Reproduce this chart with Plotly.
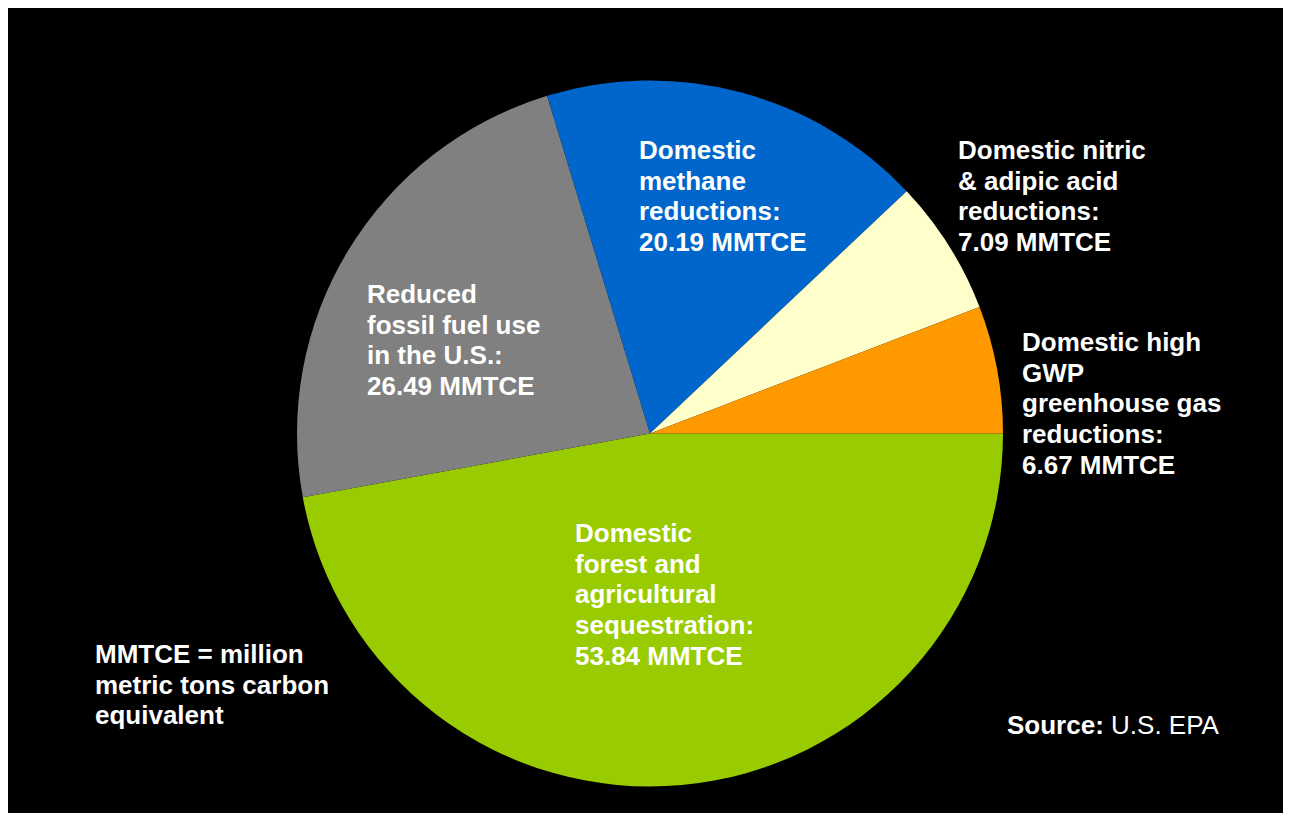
import plotly.graph_objects as go

# ---- data ----
categories = [
    "Domestic forest and agricultural sequestration",
    "Reduced fossil fuel use in the U.S.",
    "Domestic methane reductions",
    "Domestic nitric & adipic acid reductions",
    "Domestic high GWP greenhouse gas reductions",
]
values = [53.84, 26.49, 20.19, 7.09, 6.67]
label_lines = [
    ["Domestic", "forest and", "agricultural", "sequestration:"],
    ["Reduced", "fossil fuel use", "in the U.S.:"],
    ["Domestic", "methane", "reductions:"],
    ["Domestic nitric", "& adipic acid", "reductions:"],
    ["Domestic high", "GWP", "greenhouse gas", "reductions:"],
]
colors = ["#99CC00", "#808080", "#0066CC", "#FFFFCC", "#FF9900"]
footnote_lines = ["MMTCE = million", "metric tons carbon", "equivalent"]
source_text = "<b>Source:</b> U.S. EPA"

# ---- layout helpers (pixel positions of label blocks) ----
W, H = 1275, 805
OFF = 8  # body margin
FONT = "Arial, Liberation Sans, sans-serif"
FS = 26
LINE = 30.7
PADX = 2  # annotation inner padding

def px(x):
    return (x - OFF) / W

def py(y):
    return 1 - (y - OFF) / H

# left x, first-line center y (page pixels) for each category label
label_pos = [(575, 533), (367, 294), (639, 150), (958, 150), (1022, 342)]

fig = go.Figure()
fig.add_trace(go.Pie(
    labels=categories,
    values=values,
    sort=False,
    direction="clockwise",
    rotation=90,
    marker=dict(colors=colors, line=dict(width=0)),
    textinfo="none",
    hoverinfo="label+value",
    showlegend=False,
    domain=dict(x=[px(297), px(1003)], y=[py(786.5), py(80.5)]),
))

annotations = []

def add_block(lines, x0, y0):
    for i, t in enumerate(lines):
        annotations.append(dict(
            x=px(x0 - PADX), y=py(y0 + i * LINE), xref="paper", yref="paper",
            text=t, showarrow=False, xanchor="left", yanchor="middle",
            font=dict(family=FONT, size=FS, color="white"),
        ))

for lines, v, (x0, y0) in zip(label_lines, values, label_pos):
    add_block(["<b>%s</b>" % l for l in lines] + ["<b>%.2f MMTCE</b>" % v], x0, y0)

add_block(["<b>%s</b>" % l for l in footnote_lines], 95, 654)
add_block([source_text], 1007, 725)

fig.update_layout(
    width=W, height=H,
    margin=dict(l=0, r=0, t=0, b=0),
    paper_bgcolor="black",
    plot_bgcolor="black",
    annotations=annotations,
)

fig.write_html("out.html")
